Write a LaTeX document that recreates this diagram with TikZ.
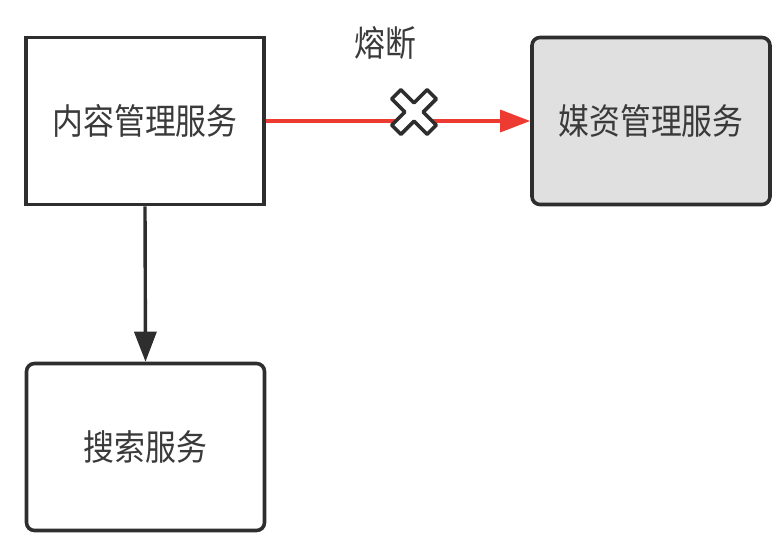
\documentclass[tikz,border=0pt]{standalone}
\usepackage{fontspec}
\newfontfamily\cjk[FakeStretch=0.87]{Noto Sans CJK SC}
\usetikzlibrary{arrows.meta}
\definecolor{ink}{HTML}{2E2E2E}
\definecolor{txt}{HTML}{3A3A3A}
\definecolor{redline}{HTML}{EE3B32}
\definecolor{grayfill}{HTML}{E0E0E0}
\begin{document}
\begin{tikzpicture}[x=1pt,y=-1pt,
  boxstyle/.style={draw=ink,line width=3.6pt,minimum width=238pt,minimum height=167pt,inner sep=0pt,font=\cjk\fontsize{35.5}{40}\selectfont,text=txt},
  lbl/.style={font=\cjk\fontsize{35.5}{40}\selectfont,text=txt,inner sep=0pt}]
\useasboundingbox (0,0) rectangle (778,547);
\node[boxstyle] (cms) at (145,121) {内容管理服务};
\node[boxstyle,rounded corners=8pt,fill=grayfill] (mam) at (651,121) {媒资管理服务};
\node[boxstyle,rounded corners=8pt] (search) at (145.5,447) {搜索服务};
\draw[redline,line width=3.2pt,-{Triangle[length=30pt,width=22pt]}] (cms.east) -- (mam.west);
\draw[ink,line width=3.4pt,-{Triangle[length=30pt,width=22pt]}] (cms.south) -- (search.north);
\node[lbl] (fuse) at (385,43) {熔断};
\begin{scope}[shift={(414,112)},rotate=45]
\draw[ink,fill=white,line width=3.6pt,line join=round]
  (-6.5,-25) -- (6.5,-25) -- (6.5,-6.5) -- (25,-6.5) -- (25,6.5) -- (6.5,6.5)
  -- (6.5,25) -- (-6.5,25) -- (-6.5,6.5) -- (-25,6.5) -- (-25,-6.5) -- (-6.5,-6.5) -- cycle;
\end{scope}
\end{tikzpicture}
\end{document}
